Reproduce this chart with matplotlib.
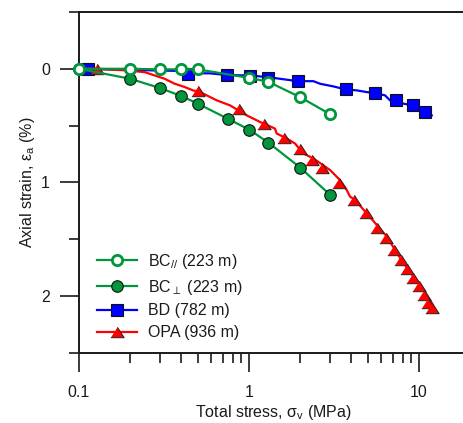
import matplotlib
matplotlib.use('Agg')
import matplotlib.pyplot as plt
from matplotlib.lines import Line2D
from matplotlib.ticker import FixedLocator, FixedFormatter, NullFormatter

plt.rcParams['font.family'] = ['Liberation Sans', 'DejaVu Sans']
plt.rcParams['mathtext.fontset'] = 'custom'
plt.rcParams['mathtext.rm'] = 'Liberation Sans'
plt.rcParams['mathtext.it'] = 'Liberation Sans:italic'
plt.rcParams['mathtext.bf'] = 'Liberation Sans:bold'

# ---------------- data ----------------
bc_par_stress = [0.1, 0.2, 0.3, 0.4, 0.5, 1.0, 1.3, 2.0, 3.0]
bc_par_strain = [0, 0, 0.005, 0.005, 0.005, 0.08, 0.115, 0.25, 0.40]

bc_perp_stress = [0.1, 0.2, 0.3, 0.4, 0.5, 0.75, 1.0, 1.3, 2.0, 3.0]
bc_perp_strain = [0, 0.088, 0.17, 0.24, 0.307, 0.44, 0.535, 0.65, 0.87, 1.11]

bd_marker_stress = [0.113, 0.44, 0.74, 1.02, 1.3, 1.93, 3.72, 5.51, 7.29, 9.18, 10.9]
bd_marker_strain = [0, 0.044, 0.059, 0.066, 0.079, 0.109, 0.175, 0.214, 0.278, 0.322, 0.38]
bd_line_stress = [0.1, 0.2, 0.42, 0.44, 0.59, 0.74, 1.01, 1.3, 1.52, 1.93, 2.39, 2.62,
                  3.13, 3.7, 4.3, 4.92, 5.51, 6.31, 6.75, 7.32, 8.09, 9.14, 10.14, 10.9, 11.88]
bd_line_strain = [0, 0.01, 0.02, 0.04, 0.04, 0.055, 0.059, 0.074, 0.088, 0.109, 0.109, 0.132,
                  0.155, 0.182, 0.19, 0.205, 0.214, 0.234, 0.278, 0.284, 0.307, 0.322, 0.351, 0.386, 0.41]

opa_marker_stress = [0.127, 0.5, 0.877, 1.23, 1.61, 2.0, 2.36, 2.68, 3.40, 4.17, 4.86, 5.64,
                     6.36, 7.16, 7.84, 8.54, 9.26, 10.05, 10.7, 11.35, 11.97]
opa_marker_strain = [0, 0.196, 0.357, 0.489, 0.609, 0.708, 0.80, 0.872, 1.003, 1.155, 1.272, 1.404,
                     1.486, 1.60, 1.68, 1.763, 1.842, 1.91, 1.99, 2.06, 2.11]
opa_line_stress = [0.1, 0.129, 0.194, 0.244, 0.279, 0.319, 0.366, 0.419, 0.468, 0.515, 0.564, 0.646,
                   0.773, 0.969, 1.16, 1.42, 1.455, 1.667, 1.865, 2.085, 2.39, 3.0, 3.43, 3.76, 3.93,
                   4.2, 4.92, 5.64, 6.46, 7.22, 8.09, 9.26, 10.6, 11.88, 12.3]
opa_line_strain = [0, 0, 0.015, 0.03, 0.059, 0.088, 0.132, 0.161, 0.19, 0.205, 0.234, 0.278,
                   0.322, 0.41, 0.468, 0.526, 0.57, 0.614, 0.658, 0.746, 0.789, 0.892, 0.98, 1.068, 1.126,
                   1.155, 1.272, 1.375, 1.477, 1.594, 1.71, 1.828, 1.945, 2.061, 2.12]

labels = [r'BC$_{\mathit{//}}$ (223 m)', r'BC$_{\perp}$ (223 m)', 'BD (782 m)', 'OPA (936 m)']
x_major = [0.1, 1, 10]
x_major_labels = ['0.1', '1', '10']
x_minor = [0.2, 0.3, 0.4, 0.5, 0.6, 0.7, 0.8, 0.9, 2, 3, 4, 5, 6, 7, 8, 9]
y_major = [0, 1, 2]
y_minor = [-0.5, 0.5, 1.5, 2.5]

# ---------------- style ----------------
GREEN = '#00963C'
BLUE = '#0000FF'
RED = '#FF0000'
tri = [(-1, -0.78), (1, -0.78), (0, 0.78)]
FS = 11.5
TXT = '#1a1a1a'

fig = plt.figure(figsize=(4.63, 4.23), dpi=100)
W, H = 463, 423
x0, x1 = 79, 470.2
y0, y1 = 12, 352.7
ax = fig.add_axes([x0 / W, (H - y1) / H, (x1 - x0) / W, (y1 - y0) / H])

ax.set_xscale('log')
ax.set_xlim(0.1, 20)
ax.set_ylim(2.5, -0.5)

open_kw = dict(marker='o', ms=7.4, mfc='white', mec=GREEN, mew=2.0)
fill_kw = dict(marker='o', ms=8.3, mfc=GREEN, mec='#111111', mew=0.8)
sq_kw = dict(marker='s', ms=8.2, mfc=BLUE, mec='#111111', mew=0.8)
tri_kw = dict(marker=tri, ms=9.6, mfc=RED, mec='#222222', mew=0.7)

# BD
ax.plot(bd_line_stress, bd_line_strain, color=BLUE, lw=1.6, zorder=2, clip_on=False)
ax.plot(bd_marker_stress, bd_marker_strain, ls='none', zorder=2.1, clip_on=False, **sq_kw)
# OPA
ax.plot(opa_line_stress, opa_line_strain, color=RED, lw=1.6, zorder=3, clip_on=False)
ax.plot(opa_marker_stress, opa_marker_strain, ls='none', zorder=3.1, clip_on=False, **tri_kw)
# BC perp
ax.plot(bc_perp_stress, bc_perp_strain, color=GREEN, lw=1.6, zorder=4, clip_on=False, **fill_kw)
# BC parallel
ax.plot(bc_par_stress, bc_par_strain, color=GREEN, lw=1.6, zorder=5, clip_on=False, **open_kw)

# axes styling
for s in ['left', 'top', 'bottom']:
    ax.spines[s].set_linewidth(1.4)
    ax.spines[s].set_color(TXT)
ax.spines['right'].set_visible(False)

ax.xaxis.set_major_locator(FixedLocator(x_major))
ax.xaxis.set_major_formatter(FixedFormatter(x_major_labels))
ax.xaxis.set_minor_locator(FixedLocator(x_minor))
ax.xaxis.set_minor_formatter(NullFormatter())
ax.yaxis.set_major_locator(FixedLocator(y_major))
ax.yaxis.set_major_formatter(FixedFormatter([str(v) for v in y_major]))
ax.yaxis.set_minor_locator(FixedLocator(y_minor))

ax.tick_params(which='major', direction='out', length=14, width=1.2, colors=TXT,
               labelsize=FS, pad=7, labelcolor=TXT)
ax.tick_params(which='minor', direction='out', length=7, width=1.2, colors=TXT)
ax.tick_params(axis='x', which='major', pad=9.5)
ax.tick_params(top=False, right=False)

ax.set_xlabel(r'Total stress, $\mathrm{\sigma_v}$ (MPa)', fontsize=FS, color=TXT)
ax.set_ylabel(r'Axial strain, $\mathrm{\varepsilon_a}$ (%)', fontsize=FS, labelpad=3, color=TXT)
ax.xaxis.set_label_coords((273 - x0) / (x1 - x0), -(403 - y1) / (y1 - y0))

handles = [
    Line2D([], [], color=GREEN, lw=1.6, **open_kw),
    Line2D([], [], color=GREEN, lw=1.6, **fill_kw),
    Line2D([], [], color=BLUE, lw=1.6, **sq_kw),
    Line2D([], [], color=RED, lw=1.6, **tri_kw),
]
leg = ax.legend(handles, labels, loc='upper left',
                bbox_to_anchor=((97 - x0) / (x1 - x0), (y1 - 252) / (y1 - y0)),
                frameon=False, fontsize=FS, handlelength=2.5, handletextpad=0.72,
                labelspacing=0.42, borderpad=0, borderaxespad=0)
for t in leg.get_texts():
    t.set_color(TXT)

fig.savefig('out.png', dpi=100)
